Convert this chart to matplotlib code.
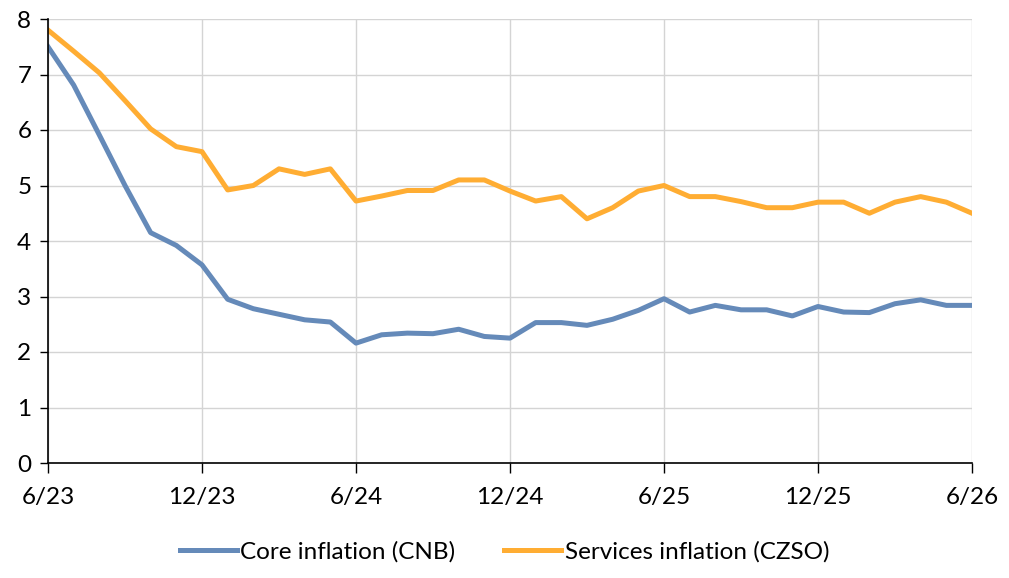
import matplotlib
matplotlib.use("Agg")
import matplotlib.pyplot as plt

months = list(range(37))
tick_pos = [0, 6, 12, 18, 24, 30, 36]
tick_labels = ["6/23", "12/23", "6/24", "12/24", "6/25", "12/25", "6/26"]

core = [7.5, 6.81, 5.91, 5.0, 4.15, 3.92, 3.57, 2.95, 2.78, 2.68, 2.58, 2.54,
        2.16, 2.31, 2.34, 2.33, 2.41, 2.28, 2.25, 2.53, 2.53, 2.48, 2.59, 2.75,
        2.96, 2.72, 2.84, 2.76, 2.76, 2.65, 2.82, 2.72, 2.71, 2.87, 2.94, 2.84, 2.84]
services = [7.8, 7.42, 7.03, 6.53, 6.02, 5.7, 5.61, 4.92, 5.0, 5.3, 5.2, 5.3,
            4.72, 4.81, 4.91, 4.91, 5.1, 5.1, 4.9, 4.72, 4.8, 4.4, 4.6, 4.9,
            5.0, 4.8, 4.8, 4.71, 4.6, 4.6, 4.7, 4.7, 4.5, 4.7, 4.8, 4.7, 4.5]

plt.rcParams['font.family'] = ['Lato', 'DejaVu Sans']

fig = plt.figure(figsize=(10.09, 5.78), dpi=100)
ax = fig.add_axes([48/1009, 1 - 463/578, (972-48)/1009, (463-19)/578])

ax.plot(months, core, color="#658AB9", lw=3.6, label="Core inflation (CNB)")
ax.plot(months, services, color="#FFAD33", lw=3.6, label="Services inflation (CZSO)")

ax.set_xlim(0, 36)
ax.set_ylim(0, 8)
ax.set_xticks(tick_pos)
ax.set_xticklabels(tick_labels)
ax.set_yticks(range(0, 9))
ax.grid(True, color="#D4D4D4", lw=1)
ax.set_axisbelow(True)
for s in ["top", "right"]:
    ax.spines[s].set_visible(False)
for s in ["left", "bottom"]:
    ax.spines[s].set_color("black")
    ax.spines[s].set_linewidth(1.2)
ax.tick_params(axis="x", direction="out", length=7, width=1, pad=10, labelsize=17.5)
ax.tick_params(axis="y", direction="out", length=6, width=1, pad=6, labelsize=17.5)

leg = fig.legend(loc="center", bbox_to_anchor=(0.5, 1 - 552/578), ncol=2, frameon=False,
                 fontsize=17.5, handlelength=2.35, handletextpad=0.15, columnspacing=2.0)

fig.savefig("out.png", dpi=100)
